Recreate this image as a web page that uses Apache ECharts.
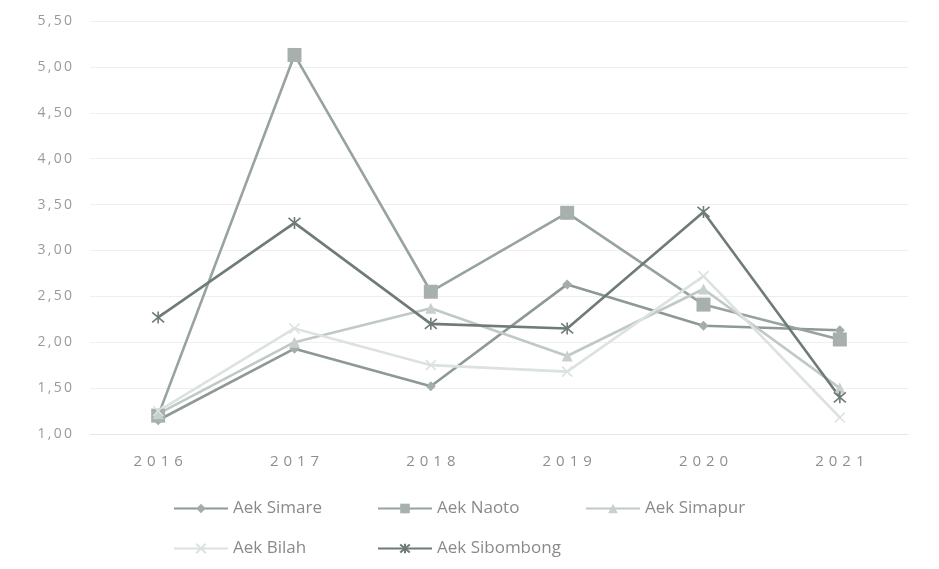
<!DOCTYPE html>
<html>
<head>
<meta charset="utf-8">
<script src="https://cdn.jsdelivr.net/npm/echarts@6/dist/echarts.min.js"></script>
<style>
  html, body { margin: 0; padding: 0; background: #ffffff; }
  #chart { width: 939px; height: 569px; }
</style>
</head>
<body>
<div id="chart"></div>
<script>
// Years on the category axis
const years = ['2016', '2017', '2018', '2019', '2020', '2021'];

// Values per river
const aekSimare    = [1.15, 1.93, 1.52, 2.63, 2.18, 2.13];
const aekNaoto     = [1.20, 5.13, 2.55, 3.41, 2.41, 2.03];
const aekSimapur   = [1.22, 2.00, 2.37, 1.85, 2.58, 1.50];
const aekBilah     = [1.25, 2.15, 1.75, 1.68, 2.72, 1.18];
const aekSibombong = [2.27, 3.30, 2.20, 2.15, 3.42, 1.40];

// Value axis range
const yMin = 1.0;
const yMax = 5.5;
const yStep = 0.5;

const FONT = 'Open Sans';

const xMark = 'path://M0,0L10,10M10,0L0,10';
const starMark = 'path://M0,0L10,10M10,0L0,10M5,-1L5,11';

// spread characters of a label apart
const spread = (s, gap) => s.split('').join(gap);

function lineSeries(name, data, color, symbol, size, fill, stroke) {
  return {
    name: name,
    type: 'line',
    data: data,
    symbol: symbol,
    symbolSize: size,
    showAllSymbol: true,
    lineStyle: { color: color, width: 2.6 },
    itemStyle: {
      color: fill,
      borderColor: stroke || fill,
      borderWidth: stroke ? 1.6 : 0
    },
    emphasis: { disabled: true },
    animation: false
  };
}

function legendAt(name, left, top) {
  return {
    data: [name],
    left: left,
    top: top,
    itemWidth: 54,
    itemHeight: 12,
    itemGap: 0,
    selectedMode: false,
    textStyle: { fontFamily: FONT, fontSize: 17, color: '#8a8a8a' }
  };
}

const chart = echarts.init(document.getElementById('chart'), null, { renderer: 'canvas' });

chart.setOption({
  backgroundColor: '#ffffff',
  animation: false,
  grid: { left: 90, right: 31, top: 21, bottom: 135, containLabel: false },
  legend: [
    legendAt('Aek Simare', 168, 495),
    legendAt('Aek Naoto', 372, 495),
    legendAt('Aek Simapur', 580, 495),
    legendAt('Aek Bilah', 168, 535),
    legendAt('Aek Sibombong', 372, 535)
  ],
  xAxis: {
    type: 'category',
    data: years,
    boundaryGap: true,
    axisLine: { show: true, lineStyle: { color: '#e6e6e6', width: 1 } },
    axisTick: { show: false },
    axisLabel: {
      margin: 20,
      fontFamily: FONT,
      fontSize: 15,
      color: '#8f8f8f',
      formatter: v => spread(v, '\u2009\u2009')
    },
    splitLine: { show: false }
  },
  yAxis: {
    type: 'value',
    min: yMin,
    max: yMax,
    interval: yStep,
    axisLine: { show: false },
    axisTick: { show: false },
    axisLabel: {
      margin: 18,
      fontFamily: FONT,
      fontSize: 14,
      color: '#9a9a9a',
      formatter: v => spread(v.toFixed(2).replace('.', ','), '\u2009')
    },
    splitLine: { show: true, lineStyle: { color: '#efefef', width: 1 } }
  },
  series: [
    lineSeries('Aek Simare', aekSimare, '#8d9996', 'diamond', 10, '#a3adab'),
    lineSeries('Aek Naoto', aekNaoto, '#98a3a0', 'rect', 14, '#a8b0ae'),
    lineSeries('Aek Simapur', aekSimapur, '#c1c9c7', 'triangle', 11, '#c8cfcd'),
    lineSeries('Aek Bilah', aekBilah, '#dce2e0', xMark, 10, 'rgba(0,0,0,0)', '#dce2e0'),
    lineSeries('Aek Sibombong', aekSibombong, '#6f7b78', starMark, 12, 'rgba(0,0,0,0)', '#6f7b78')
  ]
});
</script>
</body>
</html>
